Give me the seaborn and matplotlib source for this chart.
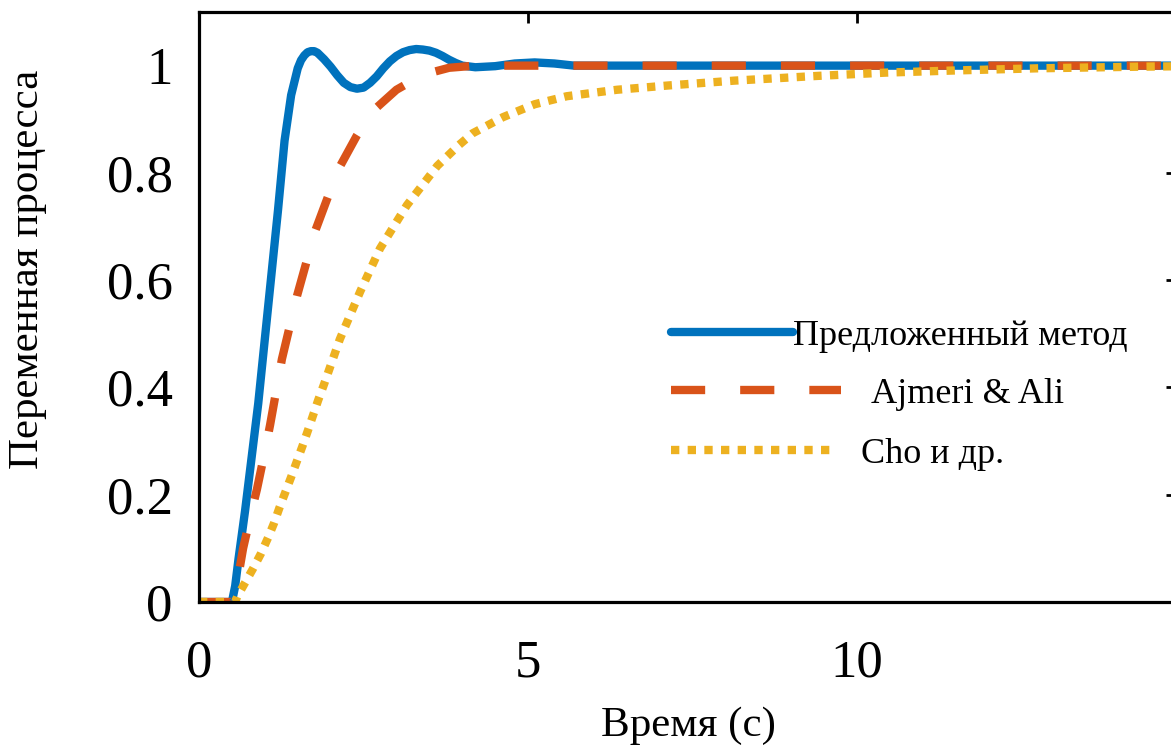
import numpy as np
import pandas as pd
import seaborn as sns
import matplotlib.pyplot as plt

# values
t_prop = [0, 0.5, 0.55, 0.6, 0.7, 0.8, 0.9, 1.0, 1.1, 1.2, 1.3, 1.4, 1.5, 1.55, 1.6, 1.65, 1.7,
          1.75, 1.8, 1.9, 2.0, 2.1, 2.2, 2.3, 2.4, 2.5, 2.6, 2.7, 2.8, 2.9, 3.0, 3.1, 3.2,
          3.3, 3.4, 3.5, 3.6, 3.7, 3.8, 3.9, 4.0, 4.2, 4.5, 4.8, 5.1, 5.4, 5.7, 6.5, 15]
y_prop = [0, 0, 0.03, 0.08, 0.17, 0.27, 0.37, 0.49, 0.61, 0.73, 0.86, 0.945, 0.995, 1.01, 1.019, 1.025, 1.027,
          1.027, 1.024, 1.012, 0.998, 0.982, 0.968, 0.96, 0.957, 0.959, 0.968, 0.98, 0.995, 1.008, 1.018, 1.025, 1.029,
          1.031, 1.03, 1.028, 1.024, 1.018, 1.011, 1.005, 1.0, 0.997, 0.999, 1.004, 1.006, 1.004, 1.0, 1.0, 1.0]

t_ajm = [0, 0.5, 0.6, 0.67, 0.8, 0.88, 1.0, 1.08, 1.26, 1.49, 1.76, 2.11, 2.4, 2.61,
         3.0, 3.4, 3.8, 4.2, 15]
y_ajm = [0, 0, 0.05, 0.1, 0.17, 0.21, 0.28, 0.33, 0.453, 0.571, 0.69, 0.805, 0.87, 0.912,
         0.955, 0.983, 0.996, 1.0, 1.0]

t_cho = [0, 0.55, 0.58, 0.7, 0.82, 0.94, 1.05, 1.14, 1.22, 1.31, 1.4, 1.48, 1.57, 1.65,
         1.73, 1.81, 1.9, 2.14, 2.45, 2.75, 3.16, 3.62, 3.95, 4.16, 4.62, 5.1, 5.59, 6.35,
         7.13, 8.13, 9.42, 10.44, 11.49, 12.74, 14.27, 15]
y_cho = [0, 0, 0.01, 0.036, 0.062, 0.09, 0.12, 0.147, 0.175, 0.204, 0.233, 0.26, 0.29, 0.318,
         0.347, 0.376, 0.406, 0.49, 0.579, 0.659, 0.74, 0.813, 0.852, 0.874, 0.904, 0.928, 0.943, 0.955,
         0.963, 0.972, 0.981, 0.987, 0.991, 0.995, 0.998, 0.999]

labels = ['Предложенный метод', 'Ajmeri & Ali', 'Cho и др.']
colors = ['#0072BD', '#D95319', '#EDB120']
yticks = [0, 0.2, 0.4, 0.6, 0.8, 1]
ytick_labels = ['0', '0.2', '0.4', '0.6', '0.8', '1']
xticks = [0, 5, 10]


def main():
    sns.set_style('white')
    plt.rcParams['font.family'] = ['Liberation Serif', 'DejaVu Serif']
    plt.rcParams['text.color'] = 'black'
    plt.rcParams['axes.labelcolor'] = 'black'

    fig = plt.figure(figsize=(11.71, 7.51), dpi=100)
    ax = fig.add_axes([199 / 1171, 149 / 751, 978 / 1171, 590 / 751])

    styles = ['-', (0, (4.1, 4.2)), (0, (1, 1))]
    series = [(t_prop, y_prop), (t_ajm, y_ajm), (t_cho, y_cho)]
    for (t, y), lab, c, ls in zip(series, labels, colors, styles):
        df = pd.DataFrame({'t': t, 'y': y})
        sns.lineplot(data=df, x='t', y='y', ax=ax, color=c, linewidth=6,
                     linestyle=ls, label=lab, dash_capstyle='butt',
                     solid_joinstyle='round')

    ax.set_xlim(0, 14.86)
    ax.set_ylim(0, 1.1)
    ax.set_xticks(xticks)
    ax.set_xticklabels([str(v) for v in xticks])
    ax.set_yticks(yticks)
    ax.set_yticklabels(ytick_labels)
    ax.tick_params(axis='both', direction='in', length=8, width=2, labelsize=38,
                   top=True, right=True, colors='black')
    ax.tick_params(axis='y', pad=19)
    ax.tick_params(axis='x', pad=27)
    for s in ax.spines.values():
        s.set_linewidth(2.3)
        s.set_color('black')

    ax.set_xlabel('Время (с)', fontsize=31, va='center', color='black')
    ax.set_ylabel('Переменная процесса', fontsize=31, va='center', color='black')
    ax.xaxis.set_label_coords(0.5, -0.209)
    ax.yaxis.set_label_coords(-0.175, 0.563)

    # one legend per entry, the entries are not aligned in the original
    ax.get_legend().remove()
    lines = ax.get_lines()
    rows = [(336, 3.39, 0.0), (394, 4.7, 0.83), (454, 4.5, 0.75)]
    for i, (py, hl, pad) in enumerate(rows):
        leg = ax.legend([lines[i]], [labels[i]], loc='center left',
                        bbox_to_anchor=(671 / 1171, 1 - py / 751),
                        bbox_transform=fig.transFigure, frameon=False,
                        fontsize=26, handlelength=hl, handletextpad=pad,
                        borderpad=0, borderaxespad=0, labelcolor='black')
        if i < 2:
            ax.add_artist(leg)

    fig.savefig('out.png', dpi=100)


if __name__ == '__main__':
    main()
